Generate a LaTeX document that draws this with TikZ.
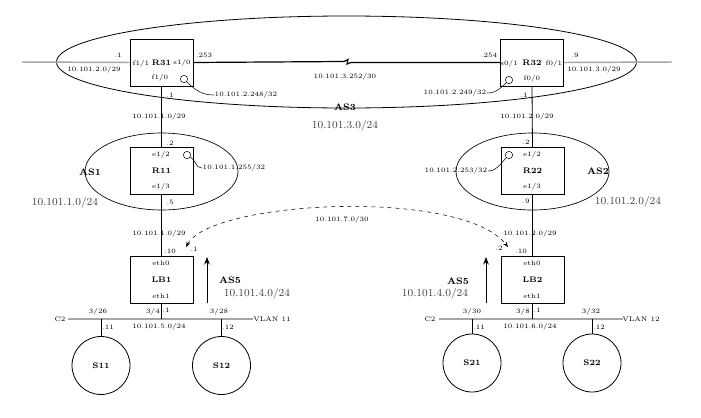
\documentclass[tikz,border=0pt]{standalone}
\usepackage{tikz}
\usetikzlibrary{arrows.meta,calc,positioning}
\definecolor{LinkGray}{HTML}{A6A6A6}

\begin{document}
\begin{tikzpicture}[x=0.75pt, y=-0.75pt, >=Stealth,
    router/.style={draw, line width=0.6pt, minimum width=47.25pt, minimum height=35.25pt, inner sep=0pt, font=\fontsize{6}{7}\selectfont\bfseries},
    host/.style={draw, circle, line width=0.6pt, minimum size=43.5pt, inner sep=0pt, font=\fontsize{6}{7}\selectfont\bfseries},
    tag/.style={font=\fontsize{5}{6}\selectfont, inner sep=0.5pt},
    asname/.style={font=\fontsize{7}{8}\selectfont\bfseries, inner sep=0.5pt},
    net/.style={font=\fontsize{8}{9}\selectfont, text=black!75, inner sep=0.5pt},
    lo/.style={draw, circle, minimum size=5.5pt, inner sep=0pt},
    lan/.style={LinkGray, line width=1.1pt}]
    \useasboundingbox (0,0) rectangle (701,418);

    % AS zones
    \draw[line width=0.6pt] (346.5,62) ellipse [x radius=290, y radius=46];
    \draw[line width=0.5pt] (161.5,171.5) ellipse [x radius=76.5, y radius=38.5];
    \draw[line width=0.5pt] (532.5,171.5) ellipse [x radius=76.5, y radius=38.5];

    % Routers
    \node[router] (R31) at (161.5,62.5) {R31};
    \node[router] (R32) at (532,62.5) {R32};
    \node[router] (R11) at (161.5,171) {R11};
    \node[router] (R22) at (532.5,171) {R22};
    \node[router] (LB1) at (161.5,279.5) {LB1};
    \node[router] (LB2) at (532.5,279.5) {LB2};

    % Interfaces
    \node[tag] (r31a) at (141,64) {f1/1};
    \node[tag] (r31b) at (182,63) {s1/0};
    \node[tag] (r31c) at (160,78) {f1/0};
    \node[tag] (r32a) at (509,64) {s0/1};
    \node[tag] (r32b) at (554,64) {f0/1};
    \node[tag] (r32c) at (532,79) {f0/0};
    \node[tag] (r11a) at (161,155) {e1/2};
    \node[tag] (r11b) at (161,187) {e1/3};
    \node[tag] (r22a) at (532,155) {e1/2};
    \node[tag] (r22b) at (532,187) {e1/3};
    \node[tag] (lb1a) at (161,263) {eth0};
    \node[tag] (lb1b) at (161,296) {eth1};
    \node[tag] (lb2a) at (532,263) {eth0};
    \node[tag] (lb2b) at (532,296) {eth1};

    % Loopbacks
    \node[lo] (lo31) at (184,79) {};
    \node[lo] (lo32) at (509,80) {};
    \node[lo] (lo11) at (187,155) {};
    \node[lo] (lo22) at (509,155) {};
    \node[tag] (lo31t) at (246,95) {10.101.2.248/32};
    \node[tag] (lo32t) at (455,93) {10.101.2.249/32};
    \node[tag] (lo11t) at (234,168) {10.101.1.255/32};
    \node[tag] (lo22t) at (456,171) {10.101.2.253/32};
    \draw[line width=0.4pt] (lo31) to[out=-45, in=180] (lo31t.west);
    \draw[line width=0.4pt] (lo32) to[out=-135, in=0] (lo32t.east);
    \draw[line width=0.4pt] (lo11) to[out=-30, in=180] (lo11t.west);
    \draw[line width=0.4pt] (lo22) to[out=-135, in=0] (lo22t.east);

    % Core links
    \coordinate (w3) at (22,62);
    \coordinate (e3) at (672,62);
    \draw[lan] (w3) -- (R31.west);
    \draw[lan] (R32.east) -- (e3);
    \draw[line width=0.9pt] (R31.east) -- (344,61.5) -- (348,59.5) -- (347,64) -- (351,62.5) -- (R32.west);
    \node[tag] at (118,55) {.1};
    \node[tag] at (94,70) {10.101.2.0/29};
    \node[tag] at (204,55) {.253};
    \node[tag] at (489,55) {.254};
    \node[tag] at (575,55) {.9};
    \node[tag] at (594,70) {10.101.3.0/29};
    \node[tag] at (345,77) {10.101.3.252/30};
    \node[asname] at (345,107) {AS3};
    \node[net] at (345,126) {10.101.3.0/24};

    % Down links
    \draw[line width=0.6pt] (R31.south) -- (R11.north);
    \draw[line width=0.6pt] (R11.south) -- (LB1.north);
    \draw[line width=0.6pt] (R32.south) -- (R22.north);
    \draw[line width=0.6pt] (R22.south) -- (LB2.north);
    \node[tag] at (170,95) {.1};
    \node[tag] at (159,117) {10.101.1.0/29};
    \node[tag] at (170,143) {.2};
    \node[tag] at (170,202) {.5};
    \node[tag] at (159,234) {10.101.1.0/29};
    \node[tag] at (170,251) {.10};
    \node[tag] at (524,95) {.1};
    \node[tag] at (527,117) {10.101.2.0/29};
    \node[tag] at (526,142) {.2};
    \node[tag] at (526,201) {.9};
    \node[tag] at (530,234) {10.101.2.0/29};
    \node[tag] at (521,251) {.10};

    % AS1 / AS2
    \node[asname] at (90,172) {AS1};
    \node[net] at (65,203) {10.101.1.0/24};
    \node[asname] at (598,171) {AS2};
    \node[net] at (628,202) {10.101.2.0/24};

    % LB link
    \coordinate (t1) at (186,247);
    \coordinate (t2) at (508,247);
    \draw[dashed, line width=0.4pt, {Stealth[length=4pt]}-{Stealth[length=4pt]}] (t1) .. controls (212,200) and (462,188) .. (t2);
    \node[tag] at (342,220) {10.101.7.0/30};
    \node[tag] at (194,249) {.1};
    \node[tag] at (499,248) {.2};

    % AS5 arrows
    \coordinate (u1) at (207,303);
    \coordinate (u1t) at (207,257);
    \coordinate (u2) at (486,303);
    \coordinate (u2t) at (486,257);
    \draw[->, line width=0.6pt] (u1) -- (u1t);
    \draw[->, line width=0.6pt] (u2) -- (u2t);
    \node[asname] at (230,280) {AS5};
    \node[net] at (257,294) {10.101.4.0/24};
    \node[asname] at (458,281) {AS5};
    \node[net] at (435,294) {10.101.4.0/24};

    % VLAN 11
    \coordinate (v11w) at (68,319);
    \coordinate (v11e) at (253,319);
    \draw[lan] (v11w) -- (v11e);
    \node[tag] at (60,319) {C2};
    \node[tag] at (272,319) {VLAN 11};
    \draw[line width=0.6pt] (LB1.south) -- (LB1.south |- v11w);
    \node[host] (S11) at (101,365.5) {S11};
    \node[host] (S12) at (221.5,365.5) {S12};
    \draw[line width=0.5pt] (S11.north) -- (S11.north |- v11w);
    \draw[line width=0.6pt] (S12.north) -- (S12.north |- v11w);
    \node[tag] at (98,312) {3/26};
    \node[tag] at (153,312) {3/4};
    \node[tag] at (166,310) {.1};
    \node[tag] at (219,312) {3/28};
    \node[tag] at (108,327) {.11};
    \node[tag] at (228,327) {.12};
    \node[tag] at (159,327) {10.101.5.0/24};

    % VLAN 12
    \coordinate (v12w) at (439,319);
    \coordinate (v12e) at (623,319);
    \draw[lan] (v12w) -- (v12e);
    \node[tag] at (430,319) {C2};
    \node[tag] at (641,319) {VLAN 12};
    \draw[line width=0.6pt] (LB2.south) -- (LB2.south |- v12w);
    \node[host] (S21) at (472,363) {S21};
    \node[host] (S22) at (592,363) {S22};
    \draw[line width=0.5pt] (S21.north) -- (S21.north |- v12w);
    \draw[line width=0.6pt] (S22.north) -- (S22.north |- v12w);
    \node[tag] at (472,312) {3/30};
    \node[tag] at (523,312) {3/8};
    \node[tag] at (537,310) {.1};
    \node[tag] at (591,312) {3/32};
    \node[tag] at (479,327) {.11};
    \node[tag] at (599,327) {.12};
    \node[tag] at (530,327) {10.101.6.0/24};

\end{tikzpicture}
\end{document}
